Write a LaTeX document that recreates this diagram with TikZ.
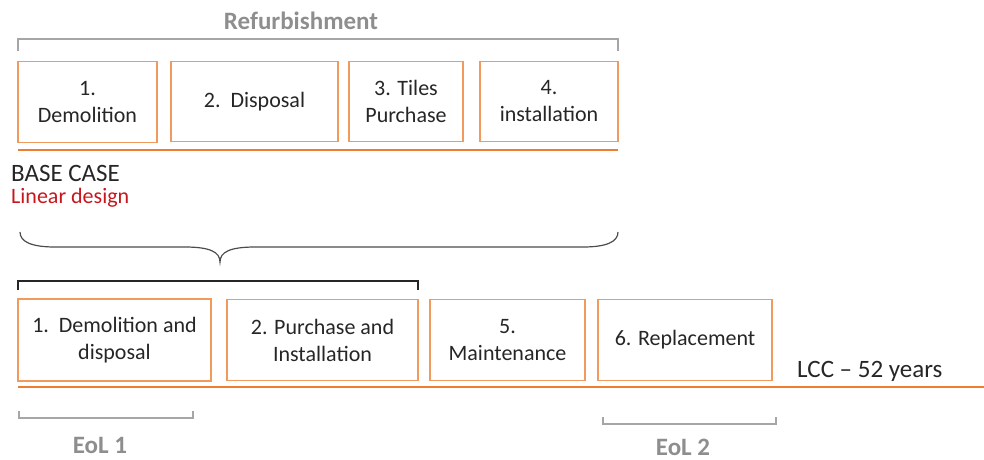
\documentclass[tikz,border=0pt]{standalone}
\usepackage{fontspec}
\setmainfont{Carlito}
\definecolor{lineorange}{HTML}{ED7D31}
\definecolor{boxorange}{HTML}{F19A5E}
\definecolor{labelgray}{HTML}{8E8E8E}
\definecolor{bracketgray}{HTML}{A6A6A6}
\definecolor{designred}{HTML}{C8161D}
\begin{document}
\begin{tikzpicture}[x=1pt,y=-1pt,
  stepbox/.style={draw=boxorange,line width=1.2pt,inner sep=0pt,align=center,
    font=\fontsize{22}{27}\selectfont,text=black!85},
  timeline/.style={draw=lineorange,line width=2.6pt},
  graybracket/.style={draw=bracketgray,line width=2pt},
  graylabel/.style={inner sep=0pt,font=\bfseries\fontsize{25}{30}\selectfont,text=labelgray},
  plainlabel/.style={inner sep=0pt,anchor=west}]
\useasboundingbox (0,0) rectangle (984,459);

% refurbishment steps
\node[graylabel] (refurb) at (301,21) {Refurbishment};
\draw[graybracket] (18,51) -- (18,39) -- (618,39) -- (618,51);
\node[stepbox,minimum width=139,minimum height=81] (r1) at (87.5,102) {1.\\Demolition};
\node[stepbox,minimum width=167,minimum height=80] (r2) at (254.5,101.5) {2.\ \ Disposal};
\node[stepbox,minimum width=114,minimum height=80] (r3) at (406,101.5) {3. Tiles\\Purchase};
\node[stepbox,minimum width=138,minimum height=80] (r4) at (549,101.5) {4.\\installation};
\coordinate (topL) at (18,150);
\coordinate (topR) at (618,150);
\draw[timeline] (topL) -- (topR);

% base case label
\node[plainlabel,font=\fontsize{25}{30}\selectfont,text=black!85] (base) at (11,173) {BASE CASE};
\node[plainlabel,font=\fontsize{22}{26}\selectfont,text=designred] (linear) at (11,198) {Linear design};

% curly brace
\coordinate (braceL) at (20,232);
\coordinate (braceT) at (220,262);
\coordinate (braceR) at (618,232);
\draw[black!70,line width=1.2pt] (braceL) .. controls (20,242) and (32,247) .. (55,247)
  -- (185,247) .. controls (210,247) and (220,252) .. (braceT)
  .. controls (220,252) and (230,247) .. (255,247)
  -- (583,247) .. controls (606,247) and (618,242) .. (braceR);

% black bracket over the first two steps
\draw[black!85,line width=2.2pt] (18,290) -- (18,281) -- (418,281) -- (418,290);

% life cycle steps
\node[stepbox,minimum width=193,minimum height=82] (s1) at (114.5,340) {1.\ \ Demolition and\\disposal};
\node[stepbox,minimum width=191,minimum height=81] (s2) at (322.5,340) {2. Purchase and\\Installation};
\node[stepbox,minimum width=155,minimum height=81] (s3) at (507.5,340) {5.\\Maintenance};
\node[stepbox,minimum width=174,minimum height=81] (s4) at (685,340) {6. Replacement};
\coordinate (lowL) at (18,387);
\coordinate (lowR) at (984,387);
\draw[timeline] (lowL) -- (lowR);
\node[plainlabel,font=\fontsize{25}{30}\selectfont,text=black!85] (lcc) at (797,371) {LCC -- 52 years};

% end-of-life markers
\draw[graybracket] (19,411) -- (19,418) -- (193,418) -- (193,411);
\node[graylabel] (eol1) at (100,445) {EoL 1};
\draw[graybracket] (603,417) -- (603,424) -- (776,424) -- (776,417);
\node[graylabel] (eol2) at (683,447) {EoL 2};
\end{tikzpicture}
\end{document}
